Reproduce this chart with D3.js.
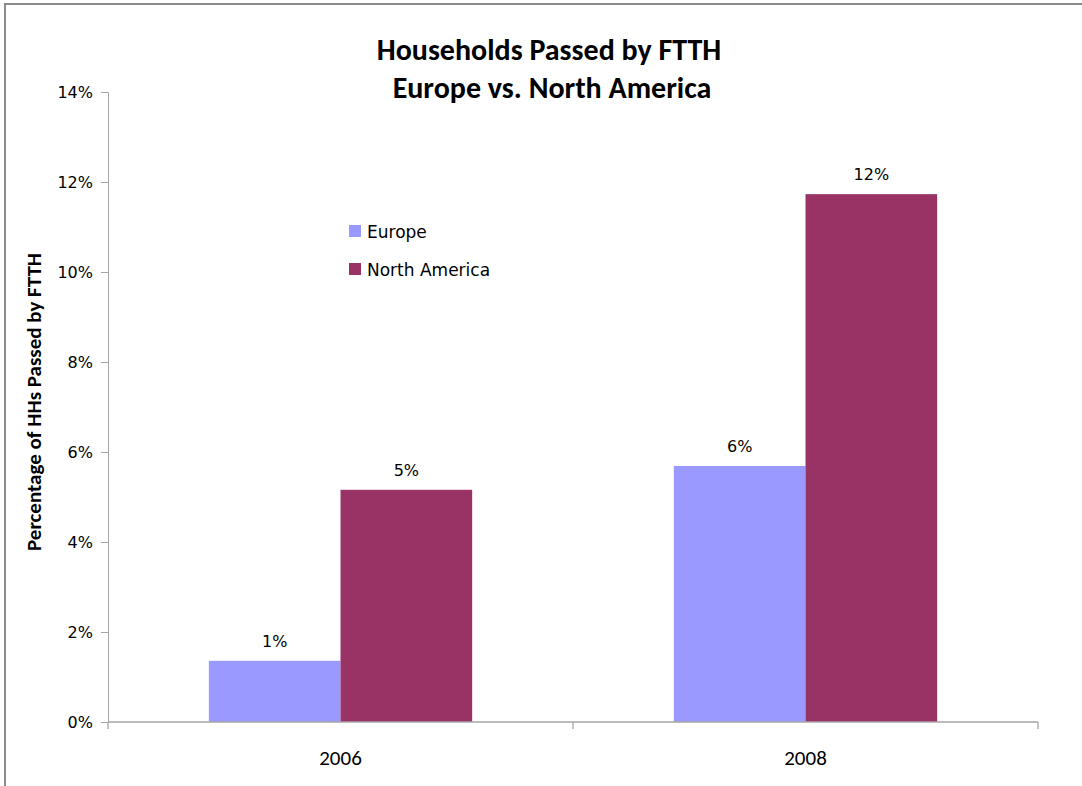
<!DOCTYPE html>
<html>
<head>
<meta charset="utf-8">
<script src="https://cdn.jsdelivr.net/npm/d3@7"></script>
<style>
  body { margin: 0; background: #fff; }
  text { font-family: "Carlito", "Liberation Sans Narrow", "Open Sans", sans-serif; }
  .dv { font-family: "DejaVu Sans", Verdana, sans-serif; }
</style>
</head>
<body>
<svg id="chart" width="1082" height="786"></svg>
<script>
const years = ["2006", "2008"];
const seriesNames = ["Europe", "North America"];
const europe = [1.36, 5.69];
const northAmerica = [5.16, 11.73];
const labels = [["1%", "5%"], ["6%", "12%"]];
const yTicks = [0, 2, 4, 6, 8, 10, 12, 14];
const colors = ["#9999FF", "#993366"];

const svg = d3.select("#chart");

// outer chart border (only top and left show inside the frame)
svg.append("rect")
    .attr("x", 5).attr("y", 4)
    .attr("width", 1090).attr("height", 800)
    .attr("fill", "none").attr("stroke", "#8c8c8c").attr("stroke-width", 2);

const x0 = d3.scaleBand().domain(years).range([108, 1038]).paddingInner(0).paddingOuter(0);
const x1 = d3.scaleBand().domain(seriesNames).range([0, x0.bandwidth()]).paddingInner(0).paddingOuter(0.766);
const y = d3.scaleLinear().domain([0, 14]).range([722, 92]);

const g = svg.append("g");

const data = years.map((yr, i) => ({
    year: yr,
    vals: [
        { name: seriesNames[0], value: europe[i], label: labels[i][0], color: colors[0] },
        { name: seriesNames[1], value: northAmerica[i], label: labels[i][1], color: colors[1] }
    ]
}));

const groups = g.selectAll(".grp").data(data).enter().append("g")
    .attr("transform", d => `translate(${x0(d.year)},0)`);

groups.selectAll("rect").data(d => d.vals).enter().append("rect")
    .attr("x", d => x1(d.name))
    .attr("y", d => y(d.value))
    .attr("width", x1.bandwidth())
    .attr("height", d => 722 - y(d.value))
    .attr("fill", d => d.color);

groups.selectAll(".lbl").data(d => d.vals).enter().append("text")
    .attr("class", "lbl dv")
    .attr("x", d => x1(d.name) + x1.bandwidth() / 2)
    .attr("y", d => y(d.value) - 14)
    .attr("text-anchor", "middle")
    .style("font-size", "16px")
    .attr("fill", "#000")
    .text(d => d.label);

// y axis
const yAxis = d3.axisLeft(y).tickValues(yTicks).tickFormat(d => d + "%").tickSizeOuter(0).tickSize(7);
const ya = svg.append("g").attr("transform", "translate(108,0)").call(yAxis);
ya.attr("font-family", null);
ya.select(".domain").attr("stroke", "#a6a6a6");
ya.selectAll(".tick line").attr("stroke", "#a6a6a6");
ya.selectAll(".tick text")
    .attr("class", "dv")
    .attr("x", -15)
    .style("font-size", "16px")
    .attr("fill", "#000");

// x axis
const xa = svg.append("g").attr("transform", "translate(0,722)");
xa.append("line").attr("x1", 108).attr("x2", 1038).attr("y1", 0).attr("y2", 0)
    .attr("stroke", "#a6a6a6").attr("stroke-width", 1.3);
const xTickPos = [x0.range()[0]].concat(years.map(d => x0(d) + x0.bandwidth()));
xa.selectAll(".xt").data(xTickPos).enter().append("line")
    .attr("x1", d => d).attr("x2", d => d).attr("y1", 0).attr("y2", 7)
    .attr("stroke", "#a6a6a6").attr("stroke-width", 1.3);
xa.selectAll(".xl").data(years).enter().append("text")
    .attr("x", d => x0(d) + x0.bandwidth() / 2)
    .attr("y", 43)
    .attr("text-anchor", "middle")
    .style("font-size", "21px")
    .attr("fill", "#000")
    .text(d => d);

// titles
svg.append("text").attr("x", 549).attr("y", 60).attr("text-anchor", "middle")
    .style("font-size", "30px").style("font-weight", "bold").text("Households Passed by FTTH");
svg.append("text").attr("x", 552).attr("y", 98).attr("text-anchor", "middle")
    .style("font-size", "30px").style("font-weight", "bold").text("Europe vs. North America");
svg.append("text")
    .attr("transform", "translate(41,402) rotate(-90)")
    .attr("text-anchor", "middle")
    .style("font-size", "21px").style("font-weight", "bold")
    .text("Percentage of HHs Passed by FTTH");

// legend
const legend = svg.append("g").attr("transform", "translate(349,225)");
seriesNames.forEach((name, i) => {
    const row = legend.append("g").attr("transform", `translate(0,${i * 38})`);
    row.append("rect").attr("width", 12).attr("height", 12).attr("fill", colors[i]);
    row.append("text").attr("class", "dv").attr("x", 18).attr("y", 13)
        .style("font-size", "17px").text(name);
});
</script>
</body>
</html>
